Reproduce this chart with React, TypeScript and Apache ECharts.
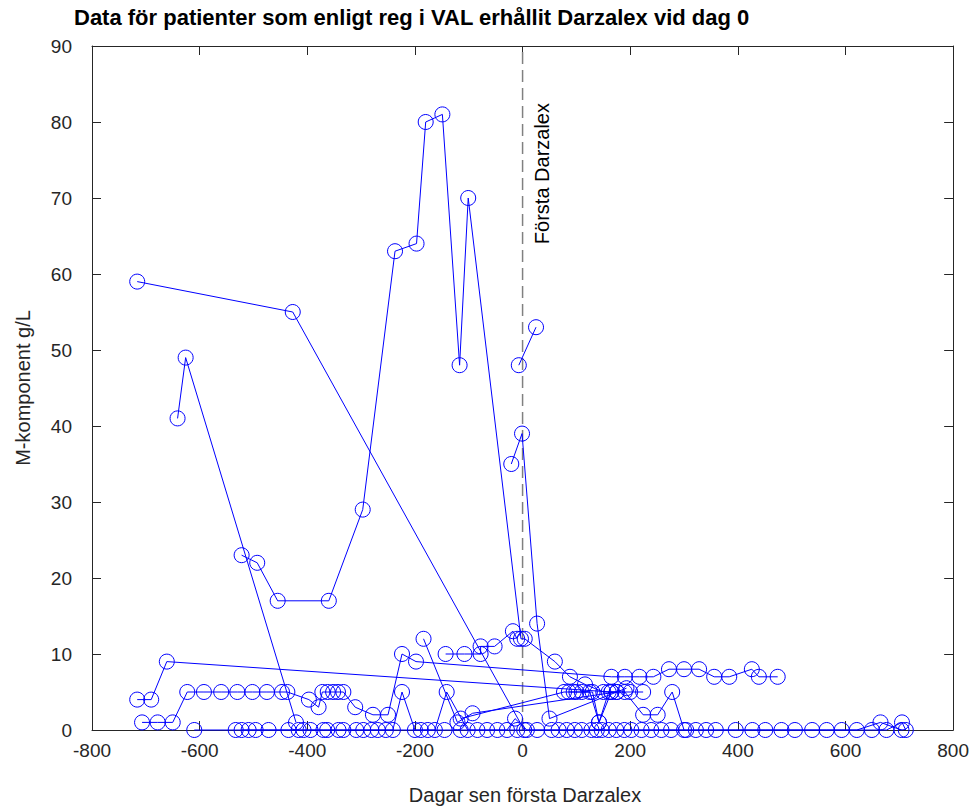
import { useEffect, useRef } from "react";
import * as echarts from "echarts";

// Axis ranges / ticks
const xRange = { min: -800, max: 800, interval: 200 };
const yRange = { min: 0, max: 90, interval: 10 };

const titleText = "Data för patienter som enligt reg i VAL erhållit Darzalex vid dag 0";
const xName = "Dagar sen första Darzalex";
const yName = "M-komponent g/L";
const markerLabel = "Första Darzalex";
const markerDay = 0;

// Patients: [day relative to first Darzalex, M-komponent g/L]
const patient01: [number, number][] = [[-716, 59], [-427, 55], [3, 0]];
const patient02: [number, number][] = [[-641, 41], [-626, 49], [-421, 1]];
const patient03: [number, number][] = [
  [-522, 23], [-493, 22], [-455, 17], [-360, 17], [-297, 29], [-237, 63], [-197, 64],
  [-180, 80], [-149, 81], [-117, 48], [-101, 70], [-3, 12], [4, 12], [60, 9], [88, 7],
  [116, 6], [150, 5], [175, 5],
];
const patient04: [number, number][] = [[-21, 35], [-1, 39], [27, 14], [50, 1.5], [193, 5.5]];
const patient05: [number, number][] = [[-7, 48], [25, 53]];
const patient06: [number, number][] = [[-716, 4], [-690, 4], [-661, 9], [165, 5], [200, 5], [224, 5]];
const patient07: [number, number][] = [
  [-707, 1], [-678, 1], [-650, 1], [-623, 5], [-592, 5], [-560, 5], [-530, 5], [-502, 5],
  [-475, 5], [-447, 5], [-437, 5], [-397, 4], [-379, 3], [-372, 5], [-362, 5], [-352, 5],
  [-343, 5], [-333, 5], [-311, 3], [-278, 2], [-250, 2], [-224, 10], [-198, 9], [165, 7],
  [190, 7], [217, 7], [243, 7], [272, 8], [300, 8], [328, 8], [356, 7], [384, 7], [426, 8],
  [439, 7], [474, 7],
];
const patient08: [number, number][] = [
  [-143, 10], [-108, 10], [-78, 10], [-78, 11], [-52, 11], [-18, 13], [-10, 12],
];
const patient09: [number, number][] = [[-184, 12], [-121, 1], [-93, 2.2], [175, 5]];
const patient10: [number, number][] = [
  [-115, 1.5], [77, 5], [95, 5], [110, 5], [125, 5], [142, 1], [165, 5],
];
const patient11: [number, number][] = [
  [86, 5], [100, 5], [130, 5], [142, 1], [160, 5], [190, 5], [224, 2], [251, 2], [278, 5], [300, 0],
];
const patient12: [number, number][] = [
  [-610, 0], [-533, 0], [-509, 0], [-472, 0], [-435, 0], [-407, 0], [-370, 0], [-342, 0],
  [-309, 0], [-281, 0], [-254, 0], [-241, 0], [-224, 5], [-200, 0], [-176, 0], [-145, 0],
  [-115, 0], [-84, 0], [-47, 0], [-10, 0], [27, 0], [67, 0], [97, 0], [128, 0], [160, 0],
  [189, 0], [221, 0], [258, 0], [304, 0], [341, 0], [396, 0], [451, 0], [506, 0], [565, 0],
  [621, 0], [665, 1], [704, 0],
];
const patient13: [number, number][] = [
  [-522, 0], [-496, 0], [-416, 0], [-394, 0], [-363, 0], [-333, 0], [-296, 0], [-269, 0],
  [-189, 0], [-163, 0], [-141, 5], [-102, 0], [-66, 0], [-29, 0], [-14, 1.5], [8, 0],
  [54, 0], [82, 0], [110, 0], [138, 0], [147, 0], [174, 0], [202, 0], [239, 0], [276, 0],
  [322, 0], [359, 0], [427, 0], [481, 0], [538, 0], [593, 0], [649, 0], [676, 0], [705, 1],
  [712, 0],
];

const patients = [
  patient01, patient02, patient03, patient04, patient05, patient06, patient07,
  patient08, patient09, patient10, patient11, patient12, patient13,
];

const FONT = "'Liberation Sans', Arial, Helvetica, sans-serif";
const BLUE = "#0000ff";
const AX = "#262626";

export default function App() {
  const ref = useRef<HTMLDivElement>(null);
  useEffect(() => {
    if (!ref.current) return;
    const chart = echarts.init(ref.current, undefined, { renderer: "svg" });
    const axisCommon = {
      type: "value" as const,
      axisLine: { show: true, onZero: false, lineStyle: { color: AX, width: 1 } },
      axisTick: { show: true, inside: true, length: 9, lineStyle: { color: AX, width: 1 } },
      splitLine: { show: false },
    };
    const series: any[] = [
      {
        type: "line",
        data: [[markerDay, yRange.min], [markerDay, yRange.max]],
        symbol: "none",
        silent: true,
        lineStyle: { color: "#808080", width: 1.5, type: [12, 6] },
        z: 1,
      },
      ...patients.map((p) => ({
        type: "line",
        data: p,
        symbol: "circle",
        symbolSize: 15,
        showAllSymbol: true,
        silent: true,
        clip: false,
        lineStyle: { color: BLUE, width: 1 },
        itemStyle: { color: "rgba(0,0,0,0)", borderColor: BLUE, borderWidth: 1 },
        emphasis: { disabled: true },
        z: 2,
      })),
    ];
    chart.setOption({
      animation: false,
      backgroundColor: "#ffffff",
      grid: { left: 92, right: 14, top: 46, bottom: 79, containLabel: false },
      xAxis: [
        {
          ...axisCommon,
          position: "bottom",
          min: xRange.min,
          max: xRange.max,
          interval: xRange.interval,
          axisLabel: { color: AX, fontSize: 19, fontFamily: FONT, margin: 11 },
        },
        {
          ...axisCommon,
          position: "top",
          min: xRange.min,
          max: xRange.max,
          interval: xRange.interval,
          axisLabel: { show: false },
        },
      ],
      yAxis: [
        {
          ...axisCommon,
          position: "left",
          min: yRange.min,
          max: yRange.max,
          interval: yRange.interval,
          axisLabel: { color: AX, fontSize: 19, fontFamily: FONT, margin: 20, padding: [0, 0, 8, 0] },
        },
        {
          ...axisCommon,
          position: "right",
          min: yRange.min,
          max: yRange.max,
          interval: yRange.interval,
          axisLabel: { show: false },
        },
      ],
      series,
      graphic: [
        {
          type: "text",
          x: 74,
          y: 17,
          style: { text: titleText, font: `bold 22px ${FONT}`, fill: "#000000", align: "left", verticalAlign: "middle" },
        },
        {
          type: "text",
          x: 525,
          y: 795,
          style: { text: xName, font: `20px ${FONT}`, fill: AX, align: "center", verticalAlign: "middle" },
        },
        {
          type: "text",
          x: 23,
          y: 388,
          rotation: Math.PI / 2,
          style: { text: yName, font: `20px ${FONT}`, fill: AX, align: "center", verticalAlign: "middle" },
        },
        {
          type: "text",
          x: 542,
          y: 103,
          rotation: Math.PI / 2,
          style: { text: markerLabel, font: `20px ${FONT}`, fill: "#000000", align: "right", verticalAlign: "middle" },
        },
      ],
    });
    return () => chart.dispose();
  }, []);
  return (
    <div
      ref={ref}
      style={{ position: "absolute", left: 0, top: 0, width: 972, height: 809 }}
    />
  );
}
